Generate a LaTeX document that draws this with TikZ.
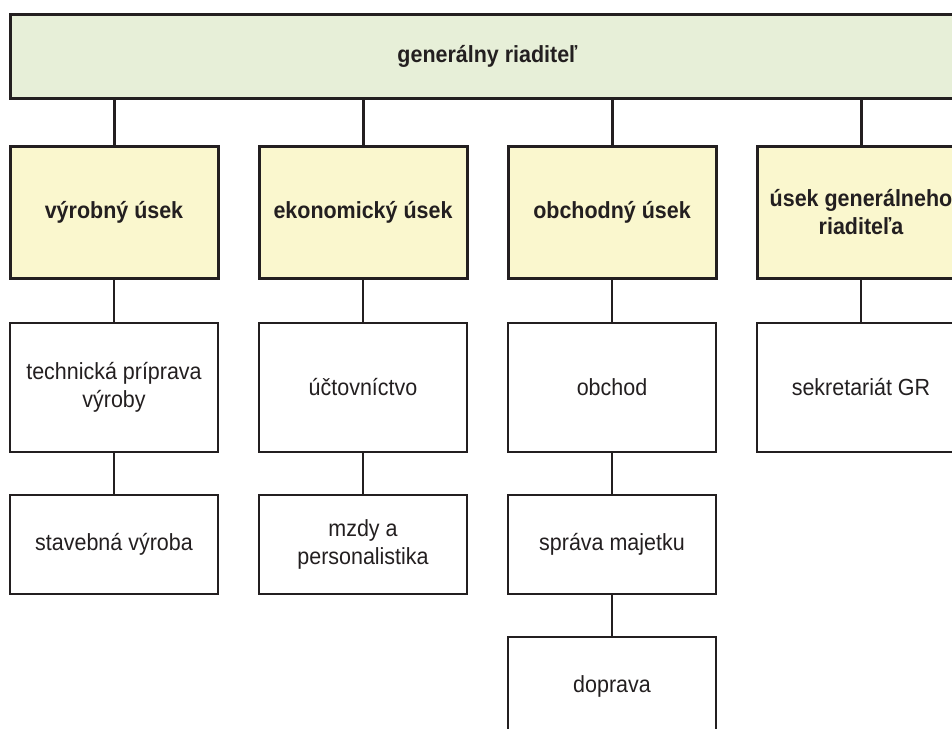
\documentclass[tikz,border=0pt]{standalone}
\usepackage{fontspec}
\setmainfont{Liberation Sans}[FakeStretch=0.92]
\definecolor{ln}{HTML}{231F20}
\definecolor{txt}{HTML}{231F20}
\definecolor{topfill}{HTML}{E7EFD8}
\definecolor{secfill}{HTML}{FAF7CE}
\begin{document}
\begin{tikzpicture}[x=0.75pt,y=-0.75pt,
  every node/.style={inner sep=0pt, outer sep=0pt, align=center, text=txt, font=\fontsize{17.5}{21}\selectfont},
  topbox/.style={draw=ln, line width=2.25pt, fill=topfill, minimum width=716.25pt, minimum height=63pt, font=\bfseries\fontsize{17.5}{21}\selectfont},
  secbox/.style={draw=ln, line width=2.25pt, fill=secfill, minimum width=156pt, minimum height=99pt, font=\bfseries\fontsize{17.5}{21}\selectfont},
  unitbox/.style={draw=ln, line width=1.5pt, fill=white, minimum width=156pt},
  tallbox/.style={minimum height=96.75pt},
  shortbox/.style={minimum height=74.25pt},
  thicklink/.style={draw=ln, line width=2.25pt},
  thinlink/.style={draw=ln, line width=1.5pt}]
\useasboundingbox (0,0) rectangle (952,728);
\clip (0,0) rectangle (952,728);
% top
\node[topbox] (gr) at (487.5,56) {generálny riaditeľ};
% sections
\node[secbox] (vu) at (114,212) {výrobný úsek};
\node[secbox] (eu) at (363,212) {ekonomický úsek};
\node[secbox] (ou) at (612,212) {obchodný úsek};
\node[secbox] (ug) at (861,212) {úsek generálneho\\riaditeľa};
% units row 2
\node[unitbox,tallbox] (tp) at (114,387.5) {technická príprava\\výroby};
\node[unitbox,tallbox] (uc) at (363,387.5) {účtovníctvo};
\node[unitbox,tallbox] (ob) at (612,387.5) {obchod};
\node[unitbox,tallbox] (sg) at (861,387.5) {sekretariát GR};
% row 3
\node[unitbox,shortbox] (sv) at (114,544.5) {stavebná výroba};
\node[unitbox,shortbox] (mp) at (363,544.5) {mzdy a\\personalistika};
\node[unitbox,shortbox] (sm) at (612,544.5) {správa majetku};
% row 4
\node[unitbox,shortbox] (dp) at (612,686.5) {doprava};
% links
\foreach \s in {vu,eu,ou,ug}{
  \draw[thicklink] (gr.south -| \s.north) -- (\s.north);
}
\draw[thinlink] (vu) -- (tp);
\draw[thinlink] (eu) -- (uc);
\draw[thinlink] (ou) -- (ob);
\draw[thinlink] (ug) -- (sg);
\draw[thinlink] (tp) -- (sv);
\draw[thinlink] (uc) -- (mp);
\draw[thinlink] (ob) -- (sm);
\draw[thinlink] (sm) -- (dp);
\end{tikzpicture}
\end{document}
